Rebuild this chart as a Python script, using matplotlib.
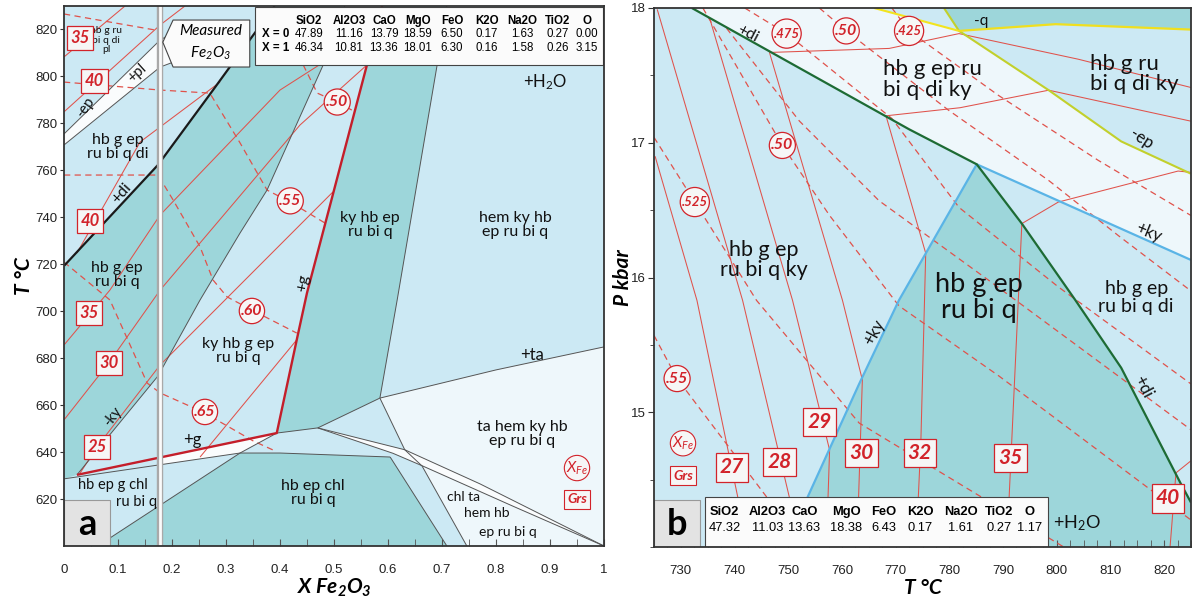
import numpy as np
import matplotlib
matplotlib.use("Agg")
import matplotlib.pyplot as plt
from matplotlib.patches import Polygon, Rectangle
from matplotlib.ticker import MultipleLocator

plt.rcParams['font.family'] = ['Lato', 'DejaVu Sans']
plt.rcParams['mathtext.default'] = 'regular'

LIGHT = '#cce9f4'
TEAL = '#9dd6da'
PALE = '#eef7fb'
WHITE = '#fafcfd'
RED = '#d2232a'
THIN_RED = '#e0524b'
EDGE = '#555555'

# ---------------- panel a : T (°C) vs X Fe2O3 ----------------
a_teal_left = [(0, 719.3), (0.174, 762.3), (0.276, 794.2), (0.307, 804.0), (0.39, 830),
               (0.52, 830), (0.48, 804.9), (0.376, 751.6), (0.326, 733.3), (0.252, 704.8),
               (0.174, 672.4), (0.024, 630.3), (0, 628.6)]
a_teal_mid = [(0.394, 648.1), (0.431, 687.8), (0.45, 707.8), (0.561, 804.9), (0.589, 830),
              (0.709, 830), (0.691, 804.9), (0.617, 704.8), (0.585, 663.0), (0.470, 650.3)]
a_teal_low = [(0.067, 600), (0.085, 603.4), (0.326, 639.6), (0.4, 639.6), (0.604, 637.9), (0.709, 600)]
a_ta_field = [(0.585, 663.0), (0.8, 675.0), (1.0, 684.8), (1.0, 600), (0.77, 626.5), (0.631, 641.0)]
a_wedge_upper = [(0.470, 650.3), (0.631, 641.0), (0.77, 626.5), (1.0, 600)]
a_wedge_lower = [(0.470, 650.3), (0.609, 639.5), (0.665, 634.0), (0.831, 617.0), (1.0, 600)]
a_chl_ta = [(0.663, 634.1), (0.831, 617.0), (1.0, 600), (0.746, 600)]
a_g_wedge = [(0.183, 637.9), (0.394, 648.1), (0.326, 639.6), (0.183, 634.8)]
a_pl_band = [(0, 770.8), (0, 775.5), (0.178, 815.5), (0.228, 822), (0.228, 808.3), (0.178, 804.0)]

a_di_line = [(0, 719.3), (0.174, 762.3), (0.276, 794.2), (0.307, 804.0), (0.39, 830)]
a_g_line = [(0.024, 630.3), (0.394, 648.1), (0.431, 687.8), (0.45, 707.8), (0.561, 804.9), (0.589, 830)]
a_edges = [
    [(0.024, 630.3), (0.174, 672.4), (0.252, 704.8), (0.326, 733.3), (0.376, 751.6), (0.48, 804.9), (0.52, 830)],
    [(0, 628.6), (0.326, 639.6), (0.4, 639.6), (0.604, 637.9)],
    [(0.067, 600), (0.085, 603.4), (0.326, 639.6)],
    [(0.604, 637.9), (0.709, 600)],
    [(0.585, 663.0), (0.617, 704.8), (0.691, 804.9), (0.709, 830)],
    [(0.394, 648.1), (0.470, 650.3), (0.585, 663.0)],
    [(0.585, 663.0), (0.8, 675.0), (1.0, 684.8)],
    [(0.585, 663.0), (0.631, 641.0), (0.663, 634.1), (0.746, 600)],
    a_wedge_upper, a_wedge_lower,
    [(0.326, 639.6), (0.394, 648.1)],
    [(0, 775.5), (0.178, 815.5), (0.228, 822)],
    [(0, 770.8), (0.178, 804.0), (0.228, 808.3)],
]
# grossular isopleths (solid) and XFe isopleths (dashed)
a_grs = [
    [(0, 808.3), (0.113, 830)],
    [(0, 784.9), (0.178, 821.9), (0.224, 830)],
    [(0.024, 724.8), (0.141, 772.1), (0.289, 797.6)],
    [(0, 685.6), (0.085, 709.0), (0.178, 741.0), (0.4, 794.2), (0.487, 807.0)],
    [(0, 653.7), (0.083, 678.0), (0.178, 709.0), (0.437, 779.3), (0.561, 804.9)],
    [(0.03, 631.1), (0.061, 642.2), (0.178, 677.1), (0.498, 750.8)],
    [(0.252, 637.9), (0.431, 687.8)],
]
a_xfe = [
    [(0, 826.6), (0.178, 819.4)],
    [(0, 797.6), (0.178, 794.2), (0.27, 792.9), (0.326, 771.7), (0.376, 751.6), (0.419, 746.5), (0.483, 737.6)],
    [(0, 758.0), (0.174, 758.0), (0.202, 747.4), (0.252, 727.4), (0.276, 713.3), (0.302, 706.1),
     (0.348, 700.5), (0.431, 690.7)],
    [(0, 720.9), (0.085, 704.8), (0.154, 669.4), (0.178, 665.2), (0.257, 657.1), (0.35, 644.8), (0.387, 640.9)],
    [(0.443, 804.9), (0.469, 792.9), (0.506, 789.1), (0.539, 784.9)],
]
a_grs_tags = [('35', 0.03, 816.4), ('40', 0.057, 798.1), ('40', 0.048, 738.4),
              ('35', 0.046, 699.3), ('30', 0.083, 678.0), ('25', 0.061, 642.2)]
a_xfe_tags = [('.50', 0.506, 789.1), ('.55', 0.419, 747.0), ('.60', 0.348, 700.1), ('.65', 0.261, 657.1)]

a_fields = [
    ('hb g ru\nbi q di\npl', 0.078, 815.5, 7.5, 0),
    ('hb g ep\nru bi q di', 0.10, 770.0, 11.5, 0),
    ('hb g ep\nru bi q', 0.098, 715.4, 11.5, 0),
    ('ky hb g ep\nru bi q', 0.322, 683.1, 11.5, 0),
    ('ky hb ep\nru bi q', 0.567, 736.7, 11.5, 0),
    ('hem ky hb\nep ru bi q', 0.835, 736.7, 11.5, 0),
    ('ta hem ky hb\nep ru bi q', 0.848, 647.7, 11.5, 0),
    ('hb ep chl\nru bi q', 0.461, 622.6, 11.5, 0),
    ('chl ta', 0.739, 620.9, 10, 0),
    ('hem hb', 0.783, 614.1, 10, 0),
    ('ep ru bi q', 0.822, 606.0, 10, 0),
    ('hb ep g chl', 0.091, 626.0, 10.5, 0),
    ('ru bi q', 0.135, 618.8, 10.5, 0),
    ('+pl', 0.135, 801.5, 10.5, 42),
    ('-ep', 0.039, 787.0, 10.5, 55),
    ('+di', 0.107, 750.4, 11.5, 48),
    ('-ky', 0.091, 655.0, 10.5, 52),
    ('+g', 0.237, 645.2, 12, 0),
    ('+g', 0.443, 712.0, 11.5, 78),
    ('+ta', 0.867, 681.5, 12, 0),
    ('+H$_2$O', 0.891, 797.6, 12, 0),
]
a_oxides = ['SiO2', 'Al2O3', 'CaO', 'MgO', 'FeO', 'K2O', 'Na2O', 'TiO2', 'O']
a_x0 = ['47.89', '11.16', '13.79', '18.59', '6.50', '0.17', '1.63', '0.27', '0.00']
a_x1 = ['46.34', '10.81', '13.36', '18.01', '6.30', '0.16', '1.58', '0.26', '3.15']
a_measured_x = 0.1785

# ---------------- panel b : P (kbar) vs T (°C) ----------------
b_white = [(732.05, 18.0), (772.5, 17.10), (785.1, 16.84), (805.9, 16.47), (825, 16.13), (825, 16.77),
           (812.0, 17.01), (798.5, 17.39), (781.8, 17.83), (766.0, 18.0)]
b_teal_top = [(779.0, 18.0), (781.8, 17.83), (799.8, 17.88), (825, 17.84), (825, 18.0)]
b_teal_main = [(749.3, 14.0), (753.6, 14.37), (763.2, 15.21), (770.6, 15.83), (785.1, 16.84), (793.5, 16.40),
               (803.5, 15.83), (812.0, 15.33), (823.1, 14.47), (825, 14.33), (825, 14.0)]
b_di_line = [(732.05, 18.0), (772.5, 17.10), (785.1, 16.84), (793.5, 16.40), (803.5, 15.83),
             (812.0, 15.33), (823.1, 14.47), (825, 14.33)]
b_ky_line = [(749.3, 14.0), (753.6, 14.37), (763.2, 15.21), (770.6, 15.83), (785.1, 16.84),
             (805.9, 16.47), (825, 16.13)]
b_ep_line = [(779.0, 18.0), (781.8, 17.83), (798.5, 17.39), (812.0, 17.01), (825, 16.77)]
b_q_line = [(781.8, 17.83), (799.8, 17.88), (825, 17.84)]
b_top_line = [(766.0, 18.0), (781.8, 17.83)]
b_grs = [
    [(725.2, 16.90), (733.0, 15.83), (740.6, 14.37), (741.3, 14.0)],
    [(725.6, 17.99), (741.5, 15.83), (750.2, 14.37), (751.2, 14.0)],
    [(735.4, 17.92), (750.8, 15.83), (757.7, 14.72), (757.1, 14.0)],
    [(746.5, 17.67), (760.1, 15.83), (763.8, 15.24), (762.8, 14.0)],
    [(768.2, 17.20), (775.6, 16.18), (774.7, 14.79), (773.8, 14.0)],
    [(793.5, 16.40), (791.6, 14.77), (790.7, 14.0)],
    [(825, 14.64), (822.2, 14.55), (821.1, 14.0)],
    [(746.5, 17.67), (768.8, 17.70), (781.8, 17.81), (804.0, 17.62), (825, 17.41)],
    [(768.2, 17.20), (782.0, 17.26), (798.5, 17.39), (825, 17.16)],
    [(793.5, 16.40), (800.3, 16.56), (822.6, 16.79), (825, 16.78)],
]
b_xfe = [
    [(725, 15.57), (729.3, 15.25), (746.0, 14.37), (752.1, 14.0)],
    [(725, 17.04), (732.6, 16.56), (744.1, 15.83), (763.2, 14.92), (786.0, 14.37), (801.3, 14.0)],
    [(734.1, 18.0), (748.9, 16.98), (757.7, 16.46), (770.6, 15.79), (789.2, 15.27), (825, 14.20)],
    [(738.5, 17.85), (752.1, 17.16), (766.9, 16.57), (787.3, 15.98), (825, 14.87)],
    [(741.9, 18.0), (749.7, 17.81), (769.3, 17.18), (781.8, 16.52), (800.3, 15.93), (825, 15.21)],
    [(755.8, 18.0), (760.8, 17.83), (779.9, 17.24), (798.5, 16.72), (811.5, 16.31), (825, 15.90)],
    [(769.3, 18.0), (772.5, 17.83), (789.2, 17.35), (807.7, 16.87), (825, 16.46)],
]
b_grs_tags = [('27', 739.5, 14.59), ('28', 748.4, 14.63), ('29', 755.8, 14.93), ('30', 763.6, 14.70),
              ('32', 774.5, 14.70), ('35', 791.4, 14.66), ('40', 820.7, 14.36)]
b_xfe_tags = [('.475', 749.7, 17.81), ('.50', 760.8, 17.83), ('.425', 772.5, 17.83),
              ('.50', 748.9, 16.98), ('.525', 732.6, 16.56), ('.55', 729.3, 15.25)]
b_fields = [
    ('hb g ep ru\nbi q di ky', 767.6, 17.47, 16, 0, 'left'),
    ('hb g ru\nbi q di ky', 806.2, 17.51, 16, 0, 'left'),
    ('hb g ep\nru bi q ky', 745.4, 16.13, 15.5, 0, 'center'),
    ('hb g ep\nru bi q', 785.5, 15.85, 19.5, 0, 'center'),
    ('hb g ep\nru bi q di', 814.8, 15.85, 14, 0, 'center'),
    ('+di', 742.4, 17.81, 11.5, -28, 'center'),
    ('-q', 785.9, 17.90, 11, 0, 'center'),
    ('-ep', 815.7, 17.03, 12, -33, 'center'),
    ('+ky', 817.0, 16.33, 12, -22, 'center'),
    ('+ky', 766.0, 15.59, 12, 62, 'center'),
    ('+di', 816.1, 15.19, 12, -62, 'center'),
    ('+H$_2$O', 803.7, 14.18, 13, 0, 'center'),
]
b_oxides = ['SiO2', 'Al2O3', 'CaO', 'MgO', 'FeO', 'K2O', 'Na2O', 'TiO2', 'O']
b_values = ['47.32', '11.03', '13.63', '18.38', '6.43', '0.17', '1.61', '0.27', '1.17']


def fill(ax, pts, color, z=1.0):
    ax.add_patch(Polygon(pts, closed=True, facecolor=color, edgecolor='none', zorder=z))


def trace(ax, pts, **kw):
    xs, ys = zip(*pts)
    ax.plot(xs, ys, solid_capstyle='butt', **kw)


def box_tag(ax, x, y, s, fs, pad=0.22):
    ax.text(x, y, s, ha='center', va='center', color=RED, fontsize=fs, fontweight='bold',
            fontstyle='italic', zorder=7,
            bbox=dict(boxstyle='square,pad=%s' % pad, fc='#f6f6f6', ec=RED, lw=0.9))


def circle_tag(ax, x, y, s, fs):
    ax.text(x, y, s, ha='center', va='center', color=RED, fontsize=fs, fontweight='bold',
            fontstyle='italic', zorder=7,
            bbox=dict(boxstyle='circle,pad=0.12', fc='#f6f6f6', ec=RED, lw=0.9))


def legend_tags(ax, x, y1, y2, fs):
    ax.text(x, y1, '$X_{Fe}$', ha='center', va='center', color=RED, fontsize=fs, fontstyle='italic',
            zorder=7, bbox=dict(boxstyle='circle,pad=0.1', fc='#f6f6f6', ec=RED, lw=0.8))
    ax.text(x, y2, 'Grs', ha='center', va='center', color=RED, fontsize=fs - 1, fontstyle='italic',
            fontweight='bold', zorder=7,
            bbox=dict(boxstyle='square,pad=0.25', fc='#f6f6f6', ec=RED, lw=0.8))


def style_ticks(ax):
    for lbl in ax.get_xticklabels() + ax.get_yticklabels():
        lbl.set_fontfamily(['Liberation Sans', 'DejaVu Sans'])
        lbl.set_fontsize(9.5)
        lbl.set_color('#222222')
    for sp in ax.spines.values():
        sp.set_color('#333333')
        sp.set_linewidth(1.3)
        sp.set_zorder(9)


fig = plt.figure(figsize=(11.93, 6.10), dpi=100)

# ===================== panel a =====================
ax = fig.add_axes([64 / 1193, 64 / 610, 540 / 1193, 540 / 610])
ax.set_facecolor(LIGHT)
ax.set_xlim(0, 1)
ax.set_ylim(600, 830)

fill(ax, a_teal_left, TEAL)
fill(ax, a_teal_mid, TEAL)
fill(ax, a_teal_low, TEAL)
fill(ax, a_ta_field, PALE)
fill(ax, a_wedge_upper + a_wedge_lower[::-1], WHITE, 1.1)
fill(ax, a_chl_ta, PALE, 1.2)
fill(ax, a_g_wedge, WHITE, 1.1)
fill(ax, a_pl_band, WHITE, 1.1)

for seg in a_grs:
    trace(ax, seg, color=THIN_RED, lw=0.75, zorder=2)
for seg in a_xfe:
    trace(ax, seg, color=THIN_RED, lw=0.9, ls=(0, (5, 3.5)), zorder=2)
for seg in a_edges:
    trace(ax, seg, color=EDGE, lw=0.7, zorder=3)
trace(ax, a_di_line, color='#1a1a1a', lw=1.6, zorder=3.5)
trace(ax, a_g_line, color='#c41e2a', lw=1.7, zorder=3.5)

ax.axvline(a_measured_x, color='#a9a9a9', lw=4.6, zorder=4)
ax.axvline(a_measured_x, color='#fbfbfb', lw=2.0, zorder=4.1)

for s, x, y, fs, rot in a_fields:
    ax.text(x, y, s, ha='center', va='center', fontsize=fs, rotation=rot, color='#111111',
            linespacing=1.05, zorder=5)
for s, x, y in a_grs_tags:
    box_tag(ax, x, y, s, 12)
for s, x, y in a_xfe_tags:
    circle_tag(ax, x, y, s, 11.5)
legend_tags(ax, 0.95, 633.2, 620.0, 11)

# composition table
ax.add_patch(Rectangle((0.354, 0.891), 0.644, 0.107, transform=ax.transAxes, fc='#fbfbfb',
                       ec='#444444', lw=0.8, zorder=8))
a_cols = [0.4537, 0.5278, 0.5926, 0.6556, 0.7185, 0.7833, 0.8481, 0.9148, 0.9685]
tfont = ['Liberation Sans', 'DejaVu Sans']
for cx, ox, v0, v1 in zip(a_cols, a_oxides, a_x0, a_x1):
    ax.text(cx, 0.972, ox, transform=ax.transAxes, ha='center', va='center', fontsize=8.3,
            fontweight='bold', family=tfont, zorder=9)
    ax.text(cx, 0.948, v0, transform=ax.transAxes, ha='center', va='center', fontsize=8.3,
            family=tfont, zorder=9)
    ax.text(cx, 0.922, v1, transform=ax.transAxes, ha='center', va='center', fontsize=8.3,
            family=tfont, zorder=9)
ax.text(0.366, 0.948, 'X = 0', transform=ax.transAxes, ha='left', va='center', fontsize=8.3,
        fontweight='bold', family=tfont, zorder=9)
ax.text(0.366, 0.922, 'X = 1', transform=ax.transAxes, ha='left', va='center', fontsize=8.3,
        fontweight='bold', family=tfont, zorder=9)

# measured Fe2O3 callout
ax.add_patch(Polygon([(0.183, 0.933), (0.202, 0.974), (0.344, 0.974), (0.344, 0.887), (0.202, 0.887)],
                     closed=True, transform=ax.transAxes, fc='#fbfbfb', ec='#444444', lw=0.8, zorder=8))
ax.text(0.272, 0.953, 'Measured', transform=ax.transAxes, ha='center', va='center', fontsize=11,
        fontstyle='italic', zorder=9)
ax.text(0.272, 0.912, 'Fe$_2$O$_3$', transform=ax.transAxes, ha='center', va='center', fontsize=11,
        fontstyle='italic', zorder=9)

# panel tag
ax.add_patch(Rectangle((0, 0), 0.085, 0.085, transform=ax.transAxes, fc='#e3e3e3', ec='#999999',
                       lw=0.8, zorder=8))
ax.text(0.0425, 0.04, 'a', transform=ax.transAxes, ha='center', va='center', fontsize=26,
        fontweight='bold', zorder=9)

ax.set_xticks(np.arange(0, 1.01, 0.1))
ax.set_xticklabels(['0', '0.1', '0.2', '0.3', '0.4', '0.5', '0.6', '0.7', '0.8', '0.9', '1'])
ax.xaxis.set_minor_locator(MultipleLocator(0.05))
ax.set_yticks(np.arange(620, 821, 20))
ax.tick_params(axis='x', which='both', direction='in', length=5, pad=13, color='#555555')
ax.tick_params(axis='y', direction='out', length=3, pad=2, color='#333333')
style_ticks(ax)
ax.set_ylabel('T °C', fontsize=15, fontweight='bold', fontstyle='italic')
ax.yaxis.set_label_coords(-0.056, 0.5)
ax.set_xlabel('X Fe$_2$O$_3$', fontsize=15, fontweight='bold', fontstyle='italic')
ax.xaxis.set_label_coords(0.5, -0.056)

# ===================== panel b =====================
bx = fig.add_axes([654 / 1193, 63 / 610, 537 / 1193, 539 / 610])
bx.set_facecolor(LIGHT)
bx.set_xlim(725, 825)
bx.set_ylim(14, 18)

fill(bx, b_white, PALE)
fill(bx, b_teal_top, TEAL)
fill(bx, b_teal_main, TEAL)

for seg in b_grs:
    trace(bx, seg, color=THIN_RED, lw=0.75, zorder=2)
for seg in b_xfe:
    trace(bx, seg, color=THIN_RED, lw=0.9, ls=(0, (5, 3.5)), zorder=2)
trace(bx, b_ky_line, color='#5ab4e6', lw=1.6, zorder=3)
trace(bx, b_di_line, color='#1d6b34', lw=1.6, zorder=3.5)
trace(bx, b_ep_line, color='#c2d02c', lw=1.5, zorder=3.5)
trace(bx, b_q_line, color='#efdf1f', lw=1.6, zorder=3.5)
trace(bx, b_top_line, color='#f2e41e', lw=1.5, zorder=3.5)

for s, x, y, fs, rot, ha in b_fields:
    bx.text(x, y, s, ha=ha, va='center', fontsize=fs, rotation=rot, color='#111111',
            linespacing=1.05, zorder=5)
for s, x, y in b_grs_tags:
    box_tag(bx, x, y, s, 15, pad=0.2)
for s, x, y in b_xfe_tags:
    circle_tag(bx, x, y, s, 11.5 if len(s) < 4 else 9.5)
legend_tags(bx, 730.4, 14.77, 14.53, 11)

bx.add_patch(Rectangle((0.0946, 0.0), 0.640, 0.0928, transform=bx.transAxes, fc='#fbfbfb',
                       ec='#444444', lw=0.8, zorder=8))
b_cols = [0.1317, 0.2115, 0.2801, 0.3581, 0.4286, 0.4954, 0.5714, 0.6419, 0.6994]
for cx, ox, v in zip(b_cols, b_oxides, b_values):
    bx.text(cx, 0.065, ox, transform=bx.transAxes, ha='center', va='center', fontsize=9.3,
            fontweight='bold', family=tfont, zorder=9)
    bx.text(cx, 0.035, v, transform=bx.transAxes, ha='center', va='center', fontsize=9.3,
            family=tfont, zorder=9)
bx.add_patch(Rectangle((0, 0), 0.085, 0.087, transform=bx.transAxes, fc='#e3e3e3', ec='#999999',
                       lw=0.8, zorder=8))
bx.text(0.0425, 0.042, 'b', transform=bx.transAxes, ha='center', va='center', fontsize=26,
        fontweight='bold', zorder=9)

bx.set_xticks(np.arange(730, 821, 10))
bx.xaxis.set_minor_locator(MultipleLocator(2.5))
bx.set_yticks([15, 16, 17, 18])
bx.yaxis.set_minor_locator(MultipleLocator(0.5))
bx.tick_params(axis='x', which='both', direction='in', length=5, pad=13, color='#555555')
bx.tick_params(axis='y', which='major', direction='out', length=4, pad=2, color='#333333')
bx.tick_params(axis='y', which='minor', direction='out', length=3, color='#333333')
style_ticks(bx)
bx.set_ylabel('P kbar', fontsize=15, fontweight='bold', fontstyle='italic')
bx.yaxis.set_label_coords(-0.04, 0.5)
bx.set_xlabel('T °C', fontsize=15, fontweight='bold', fontstyle='italic')
bx.xaxis.set_label_coords(0.5, -0.058)

fig.savefig('out.png', dpi=100)
